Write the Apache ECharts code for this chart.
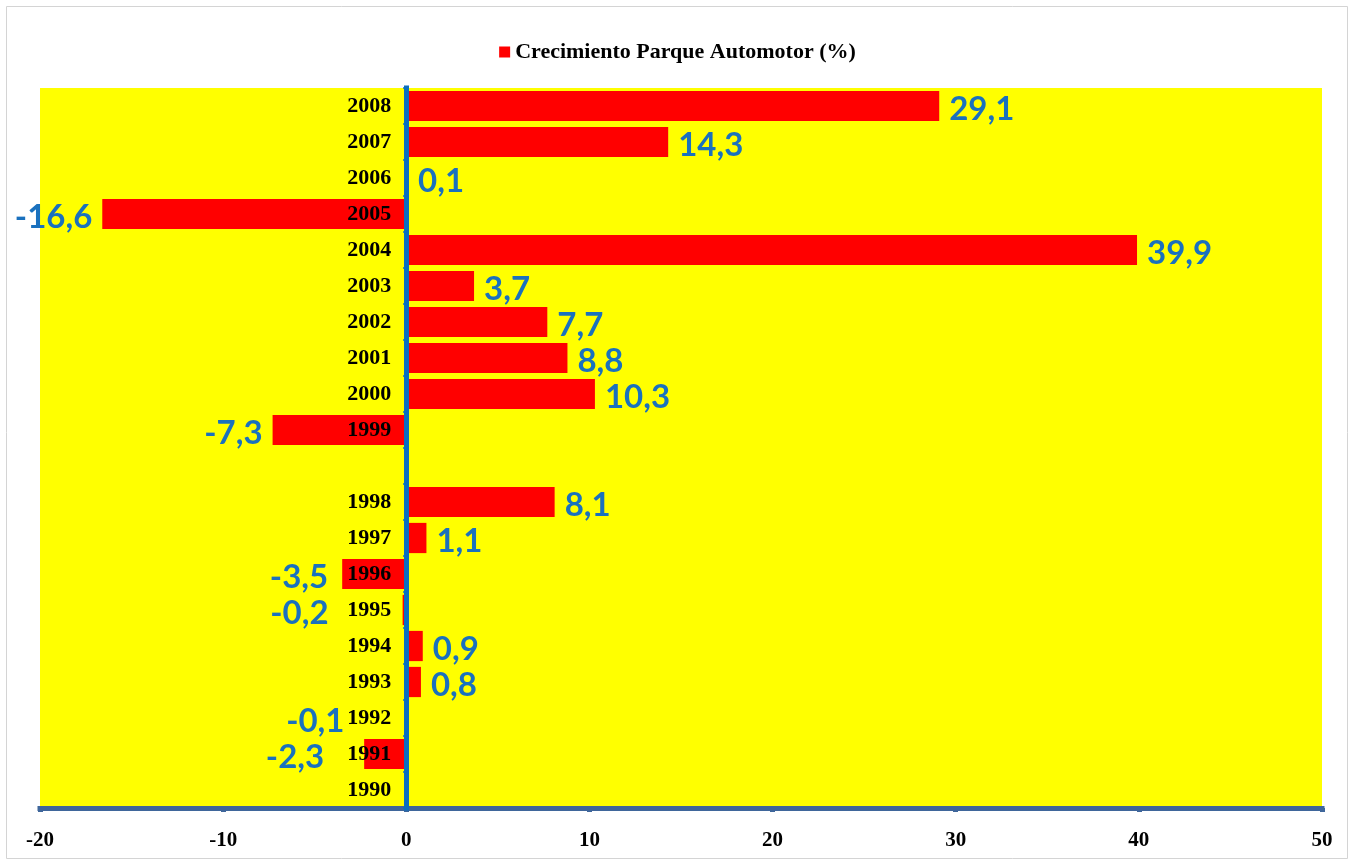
<!DOCTYPE html>
<html>
<head>
<meta charset="utf-8">
<script src="https://cdn.jsdelivr.net/npm/echarts@6/dist/echarts.min.js"></script>
<style>
  html, body { margin: 0; padding: 0; background: #ffffff; }
  #chart { width: 1355px; height: 861px; }
</style>
</head>
<body>
<div id="chart"></div>
<script>
// Years on the category axis, bottom to top (blank row separates 1998 and 1999)
const years = ['1990', '1991', '1992', '1993', '1994', '1995', '1996', '1997', '1998', '',
               '1999', '2000', '2001', '2002', '2003', '2004', '2005', '2006', '2007', '2008'];
// Annual growth of the vehicle fleet, percent (null = no value)
const growth = [null, -2.3, -0.1, 0.8, 0.9, -0.2, -3.5, 1.1, 8.1, null,
                -7.3, 10.3, 8.8, 7.7, 3.7, 39.9, -16.6, 0.1, 14.3, 29.1];
const seriesName = 'Crecimiento Parque Automotor (%)';
const axisMin = -20, axisMax = 50, axisStep = 10;

const gridLeft = 40;

// Extra horizontal nudges for labels that would sit on top of year labels
const labelNudge = { '1995': -64, '1992': -50, '1991': -30, '1996': -4 };

const barData = growth.map((v, i) => {
  if (v === null) return '-';
  return {
    value: v,
    label: {
      position: v < 0 ? 'left' : 'right',
      offset: [labelNudge[years[i]] || 0, 3]
    }
  };
});

const chart = echarts.init(document.getElementById('chart'), null, { renderer: 'canvas' });

chart.setOption({
  backgroundColor: '#ffffff',
  animation: false,
  graphic: [{
    type: 'rect',
    z: -10,
    shape: { x: 6.5, y: 6.5, width: 1341, height: 852 },
    style: { fill: 'none', stroke: '#d4d4d4', lineWidth: 1 }
  }],
  legend: {
    top: 36,
    left: 'center',
    icon: 'rect',
    itemWidth: 11,
    itemHeight: 11,
    itemGap: 6,
    textStyle: {
      fontFamily: 'Liberation Serif',
      fontWeight: 'bold',
      fontSize: 22,
      color: '#000000'
    },
    data: [seriesName]
  },
  grid: {
    left: gridLeft,
    right: 33,
    top: 88,
    bottom: 53,
    outerBoundsMode: 'none',
    containLabel: false,
    show: true,
    backgroundColor: '#FFFF00',
    borderWidth: 0
  },
  xAxis: {
    type: 'value',
    min: axisMin,
    max: axisMax,
    interval: axisStep,
    z: 3,
    axisLine: { show: true, lineStyle: { color: '#3F669B', width: 5, cap: 'square' } },
    axisTick: { show: true, length: 4, lineStyle: { color: '#3F669B', width: 5 } },
    splitLine: { show: false },
    axisLabel: {
      margin: 22,
      fontFamily: 'Liberation Serif',
      fontWeight: 'bold',
      fontSize: 21,
      color: '#000000'
    }
  },
  yAxis: {
    type: 'category',
    data: years,
    z: 6,
    axisLine: { show: true, onZero: false, lineStyle: { color: '#0A6FC0', width: 5, cap: 'square' } },
    axisTick: { show: true, length: 3, lineStyle: { color: '#0A6FC0', width: 2 } },
    axisLabel: {
      margin: 15,
      fontFamily: 'Liberation Serif',
      fontWeight: 'bold',
      fontSize: 22,
      color: '#000000'
    }
  },
  series: [{
    name: seriesName,
    type: 'bar',
    data: barData,
    barCategoryGap: '16%',
    itemStyle: { color: '#FF0000' },
    label: {
      show: true,
      distance: 10,
      fontFamily: 'Lato',
      fontWeight: 'bold',
      fontSize: 33,
      color: '#1A71BE',
      formatter: p => String(p.value).replace('.', ',')
    }
  }]
});

// Move the whole category axis (line, ticks and year labels) onto the zero value
const zeroX = chart.convertToPixel({ xAxisIndex: 0 }, 0);
chart.setOption({ yAxis: { offset: -(zeroX - gridLeft) } });
</script>
</body>
</html>
